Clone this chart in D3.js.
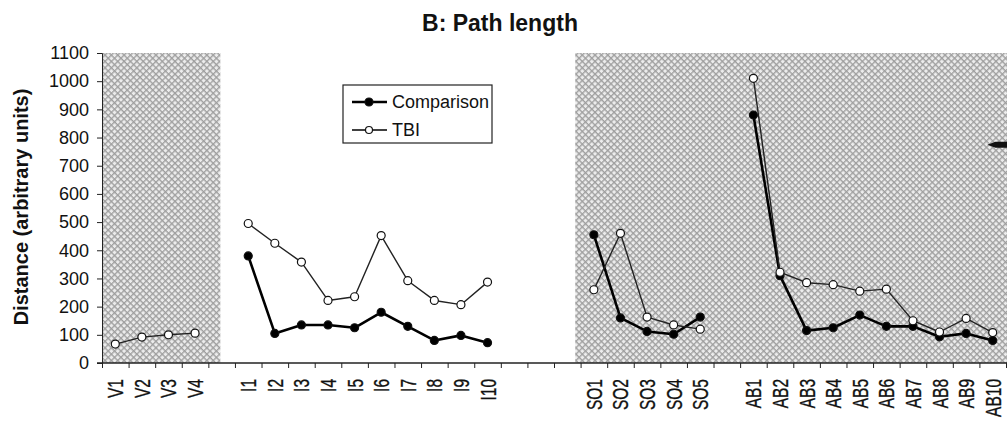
<!DOCTYPE html>
<html>
<head>
<meta charset="utf-8">
<script src="https://cdn.jsdelivr.net/npm/d3@7"></script>
<style>
  body { margin: 0; background: #fff; }
  svg { font-family: "Liberation Sans", Arial, sans-serif; }
</style>
</head>
<body>
<div id="chart"></div>
<script>
var width = 1007
var height = 426

// categories per group
var vLabels = ["V1", "V2", "V3", "V4"]
var iLabels = ["I1", "I2", "I3", "I4", "I5", "I6", "I7", "I8", "I9", "I10"]
var soLabels = ["SO1", "SO2", "SO3", "SO4", "SO5"]
var abLabels = ["AB1", "AB2", "AB3", "AB4", "AB5", "AB6", "AB7", "AB8", "AB9", "AB10"]

// values (null = not plotted)
var comparisonV = [null, null, null, null]
var comparisonI = [380, 105, 135, 135, 125, 180, 130, 80, 98, 72]
var comparisonSO = [455, 160, 112, 102, 163]
var comparisonAB = [880, 310, 115, 125, 170, 130, 130, 93, 105, 80]

var tbiV = [67, 92, 100, 106]
var tbiI = [495, 425, 358, 222, 235, 452, 292, 222, 207, 287]
var tbiSO = [260, 460, 163, 135, 120]
var tbiAB = [1010, 322, 285, 278, 255, 262, 150, 110, 158, 108]

var yTicks = d3.range(0, 1101, 100)
var arrowValue = 774

// slots along the axis, blanks between the groups
var slots = [].concat(vLabels, ["gap1"], iLabels, ["gap2", "gap3", "gap4"], soLabels, ["gap5"], abLabels)
function withGaps(v, i, so, ab) {
    return [].concat(v, [null], i, [null, null, null], so, [null], ab)
}
var series = [
    { name: "Comparison", values: withGaps(comparisonV, comparisonI, comparisonSO, comparisonAB), filled: true },
    { name: "TBI", values: withGaps(tbiV, tbiI, tbiSO, tbiAB), filled: false }
]

var x0 = 102, x1 = 1006
var x = d3.scaleBand().domain(slots).range([x0, x1]).padding(0)
var xEdge = d3.scaleLinear().domain([0, slots.length]).range([x0, x1])
var y = d3.scaleLinear().domain([0, 1100]).range([363, 53])

var svg = d3.select("#chart").append("svg").attr("width", width).attr("height", height)

// crosshatch pattern for the shaded blocks
var defs = svg.append("defs")
var pat = defs.append("pattern")
    .attr("id", "hatch")
    .attr("patternUnits", "userSpaceOnUse")
    .attr("width", 4.5).attr("height", 4.5)
    .attr("patternTransform", "rotate(45)")
pat.append("rect").attr("width", 4.5).attr("height", 4.5).attr("fill", "#ececec")
pat.append("path").attr("d", "M0,0.7H4.5M0.7,0V4.5").attr("stroke", "#9e9e9e").attr("stroke-width", 1.3)

var shade = [
    { from: xEdge(slots.indexOf("V1")), to: xEdge(slots.indexOf("V4") + 1.45) },
    { from: xEdge(slots.indexOf("SO1") - 0.2), to: width }
]
svg.selectAll(".shade").data(shade).enter().append("rect")
    .attr("class", "shade")
    .attr("x", d => d.from)
    .attr("y", y(1100))
    .attr("width", d => d.to - d.from)
    .attr("height", y(0) - y(1100))
    .attr("fill", "url(#hatch)")

// y axis
var yAxis = svg.append("g")
    .attr("transform", "translate(" + x0 + ",0)")
    .call(d3.axisLeft(y).tickValues(yTicks).tickFormat(d3.format("d")).tickSize(5).tickPadding(8))
yAxis.select(".domain").attr("stroke", "#222")
yAxis.selectAll(".tick line").attr("stroke", "#222")
yAxis.selectAll("text").attr("font-size", 18).attr("fill", "#111")

// x axis: ticks at slot edges, labels at centres
var xAxis = svg.append("g")
    .attr("transform", "translate(0," + y(0) + ")")
    .call(d3.axisBottom(xEdge).tickValues(d3.range(0, slots.length + 1)).tickFormat("").tickSize(5))
xAxis.select(".domain").attr("d", "M" + (x0 - 5) + ",0H" + width).attr("stroke", "#222").attr("stroke-width", 1.3)
xAxis.selectAll(".tick line").attr("stroke", "#222")

svg.selectAll(".xlabel")
    .data(slots.filter(d => !d.startsWith("gap")))
    .enter().append("text")
    .attr("class", "xlabel")
    .attr("transform", d => "translate(" + (x(d) + x.bandwidth() / 2 + 8) + "," + (y(0) + 16) + ") scale(1.4,1) rotate(-90)")
    .attr("text-anchor", "end")
    .attr("font-size", 15.5)
    .attr("fill", "#111")
    .attr("stroke", "#111")
    .attr("stroke-width", 0.25)
    .text(d => d)

// lines and markers
var line = d3.line()
    .defined(d => d.v != null)
    .x(d => x(d.slot) + x.bandwidth() / 2)
    .y(d => y(d.v))

series.forEach(function(s) {
    var pts = s.values.map((v, i) => ({ slot: slots[i], v: v }))
    svg.append("path")
        .datum(pts)
        .attr("fill", "none")
        .attr("stroke", s.filled ? "#000" : "#222")
        .attr("stroke-width", s.filled ? 2.6 : 1.4)
        .attr("stroke-linejoin", "round")
        .attr("d", line)
    svg.selectAll(".m-" + s.name)
        .data(pts.filter(d => d.v != null))
        .enter().append("circle")
        .attr("cx", d => x(d.slot) + x.bandwidth() / 2)
        .attr("cy", d => y(d.v))
        .attr("r", 4)
        .attr("fill", s.filled ? "#000" : "#fff")
        .attr("stroke", "#111")
        .attr("stroke-width", 1.2)
})

// arrow poking in at the right edge
var ay = y(arrowValue)
var ax = x("AB10") + 8
svg.append("path")
    .attr("d", "M" + ax + "," + ay + "L" + (ax + 8) + "," + (ay - 3) + "H" + width + "V" + (ay + 3) + "H" + (ax + 8) + "Z")
    .attr("fill", "#111")

// legend
var legend = svg.append("g")
legend.append("rect")
    .attr("x", 343).attr("y", 85).attr("width", 149).attr("height", 58)
    .attr("fill", "#fff").attr("stroke", "#222").attr("stroke-width", 1.2)
series.forEach(function(s, i) {
    var ly = 102 + i * 28
    legend.append("line")
        .attr("x1", 352).attr("x2", 387).attr("y1", ly).attr("y2", ly)
        .attr("stroke", "#000").attr("stroke-width", s.filled ? 2.6 : 1.4)
    legend.append("circle")
        .attr("cx", 369).attr("cy", ly).attr("r", s.filled ? 4 : 3.5)
        .attr("fill", s.filled ? "#000" : "#fff").attr("stroke", "#111").attr("stroke-width", 1.2)
    legend.append("text")
        .attr("x", 392).attr("y", ly + 6)
        .attr("font-size", 18).attr("fill", "#111")
        .text(s.name)
})

// titles
svg.append("text")
    .attr("x", 500).attr("y", 31)
    .attr("text-anchor", "middle")
    .attr("font-size", 23).attr("font-weight", "bold").attr("fill", "#111")
    .text("B: Path length")

svg.append("text")
    .attr("transform", "translate(28,207) rotate(-90)")
    .attr("text-anchor", "middle")
    .attr("font-size", 20).attr("font-weight", "bold").attr("fill", "#111")
    .text("Distance (arbitrary units)")
</script>
</body>
</html>
